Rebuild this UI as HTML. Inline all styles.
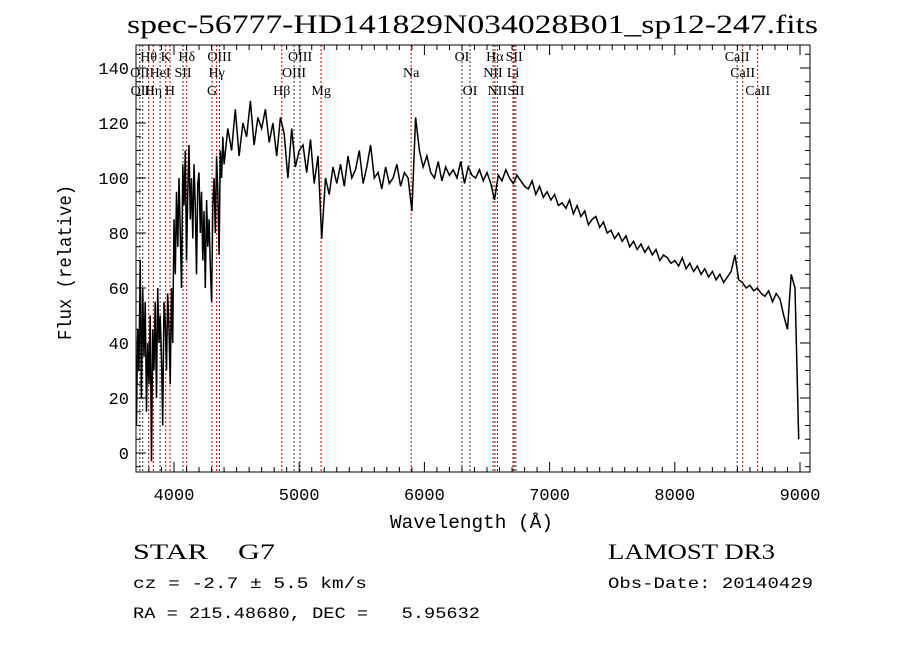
<!DOCTYPE html>
<html><head><meta charset="utf-8"><style>
body{margin:0;background:#fff}
svg{display:block}
</style></head><body>
<svg id="chart" width="900" height="649" xmlns="http://www.w3.org/2000/svg">
<rect width="900" height="649" fill="#fff"/>
<text x="127" y="33" textLength="691" lengthAdjust="spacingAndGlyphs" font-family="Liberation Serif, serif" font-size="26">spec-56777-HD141829N034028B01_sp12-247.fits</text>
<g id="lines"></g>
<g id="series"></g>
<g id="axes"></g>
<text x="390" y="528" textLength="163" lengthAdjust="spacingAndGlyphs" font-family="Liberation Mono, monospace" font-size="19">Wavelength (Å)</text>
<text transform="translate(71,340) rotate(-90)" textLength="155" lengthAdjust="spacingAndGlyphs" font-family="Liberation Mono, monospace" font-size="19">Flux (relative)</text>
<text x="133" y="559" textLength="142" lengthAdjust="spacingAndGlyphs" font-family="Liberation Serif, serif" font-size="22" xml:space="preserve">STAR    G7</text>
<text x="133" y="588" textLength="234" lengthAdjust="spacingAndGlyphs" font-family="Liberation Mono, monospace" font-size="16">cz = -2.7 ± 5.5 km/s</text>
<text x="133" y="618" textLength="347" lengthAdjust="spacingAndGlyphs" font-family="Liberation Mono, monospace" font-size="16" xml:space="preserve">RA = 215.48680, DEC =   5.95632</text>
<text x="608" y="559" textLength="167" lengthAdjust="spacingAndGlyphs" font-family="Liberation Serif, serif" font-size="22">LAMOST DR3</text>
<text x="608" y="588" textLength="205" lengthAdjust="spacingAndGlyphs" font-family="Liberation Mono, monospace" font-size="16">Obs-Date: 20140429</text>
</svg>
<script>
const blueStart = 3700, blueStep = 10;
const blueFlux = [10,45,30,70,20,60,35,55,15,40,
25,50,-3,45,30,55,20,60,40,50,
35,10,55,48,30,58,45,25,60,40,
85,65,95,75,100,80,60,105,90,110,
70,95,112,85,100,78,105,90,65,98,
102,80,95,70,88,60,92,75,85,68,
55,90,100,80,108,95,72,110,100,115,
105];
const redStart = 4430, redStep = 30;
const redFlux = [118,110,125,108,120,115,128,112,122,118,
125,113,120,108,122,116,100,118,104,110,
112,102,114,98,108,78,100,94,104,98,
105,97,108,100,103,110,98,104,112,100,
102,96,104,98,100,105,97,102,100,88,
122,110,104,108,102,100,106,99,104,101,
103,100,106,98,104,101,100,103,99,102,
98,92,101,99,103,100,98,101,99,97,
96,99,94,97,93,95,92,94,90,91,
89,92,87,90,86,88,83,85,86,82,
84,80,81,78,80,77,79,75,77,74,
76,73,75,72,74,70,72,71,69,70,
68,71,67,69,66,68,65,67,64,66,
63,65,62,64,66,72,63,62,60,61,
59,60,58,57,59,55,58,56,50,45,
65,60,5];
const xTicks = [4000,5000,6000,7000,8000,9000];
const yTicks = [0,20,40,60,80,100,120,140];
const lineWaves = [3727,3750,3798,3835,3889,3934,3968,4072,4102,4304,4341,4363,4861,4959,5007,5175,5894,6300,6364,6548,6563,6583,6708,6717,6731,8498,8542,8662];
const lineNames = ["OII","OIII","Hθ","Hη","HeI","K","H","SII","Hδ","G","Hγ","OIII","Hβ","OIII","OIII","Mg","Na","OI","OI","NII","Hα","NII","Li","SII","SII","CaII","CaII","CaII"];
const lineRows = [2,3,1,3,2,1,3,2,1,3,2,1,3,2,1,3,2,1,3,2,1,3,2,1,3,1,2,3];
const lineRed = [0,0,1,1,0,1,1,0,1,1,1,0,1,0,0,1,1,0,0,0,1,0,1,0,0,0,1,1];

const L=136,R=810,T=45,B=472;
const X=w=>174+(w-4000)*0.1252;
const Y=f=>453-f*2.75;
const NS="http://www.w3.org/2000/svg";
function mk(t,a,p){const e=document.createElementNS(NS,t);for(const k in a)e.setAttribute(k,a[k]);p.appendChild(e);return e;}
const gl=document.getElementById('lines'),gs=document.getElementById('series'),ga=document.getElementById('axes');
const rowY=[0,61,77,95];
lineWaves.forEach((w,i)=>{
  const x=X(w);
  const l=mk('line',{x1:x,x2:x,y1:T,y2:B,stroke:lineRed[i]?'#c00000':'#333','stroke-width':1,'stroke-dasharray':'2,2'},gl);
  
  
  const t=mk('text',{x:x,y:rowY[lineRows[i]],'text-anchor':'middle','font-family':'Liberation Serif, serif','font-size':14},gl);
  t.textContent=lineNames[i];
  
  
});
let pts=[];
blueFlux.forEach((f,i)=>pts.push(X(blueStart+i*blueStep).toFixed(1)+','+Y(f).toFixed(1)));
redFlux.forEach((f,i)=>pts.push(X(redStart+i*redStep).toFixed(1)+','+Y(f).toFixed(1)));
const cp=mk('clipPath',{id:'clip'},gs);mk('rect',{x:L,y:T,width:R-L,height:B-T},cp);
const pl=mk('polyline',{points:pts.join(' '),fill:'none',stroke:'#000','stroke-width':1.5,'clip-path':'url(#clip)'},gs);


const fr=mk('rect',{x:L,y:T,width:R-L,height:B-T,fill:'none',stroke:'#000','stroke-width':1},ga);


for(let w=3800;w<=9000;w+=100){const x=X(w);const len=(w%1000===0)?10:5;
  mk('line',{x1:x,x2:x,y1:B,y2:B-len,stroke:'#000'},ga);mk('line',{x1:x,x2:x,y1:T,y2:T+len,stroke:'#000'},ga);}
for(let f=-5;f<=145;f+=5){const y=Y(f);const len=(f%20===0)?10:5;
  mk('line',{x1:L,x2:L+len,y1:y,y2:y,stroke:'#000'},ga);mk('line',{x1:R,x2:R-len,y1:y,y2:y,stroke:'#000'},ga);}
xTicks.forEach(v=>{const t=mk('text',{x:X(v),y:500,'text-anchor':'middle','font-family':'Liberation Mono, monospace','font-size':17},ga);t.textContent=v;
  
  });
yTicks.forEach(v=>{const t=mk('text',{x:129,y:Y(v)+6,'text-anchor':'end','font-family':'Liberation Mono, monospace','font-size':17},ga);t.textContent=v;
  
  });
</script>
</body></html>
